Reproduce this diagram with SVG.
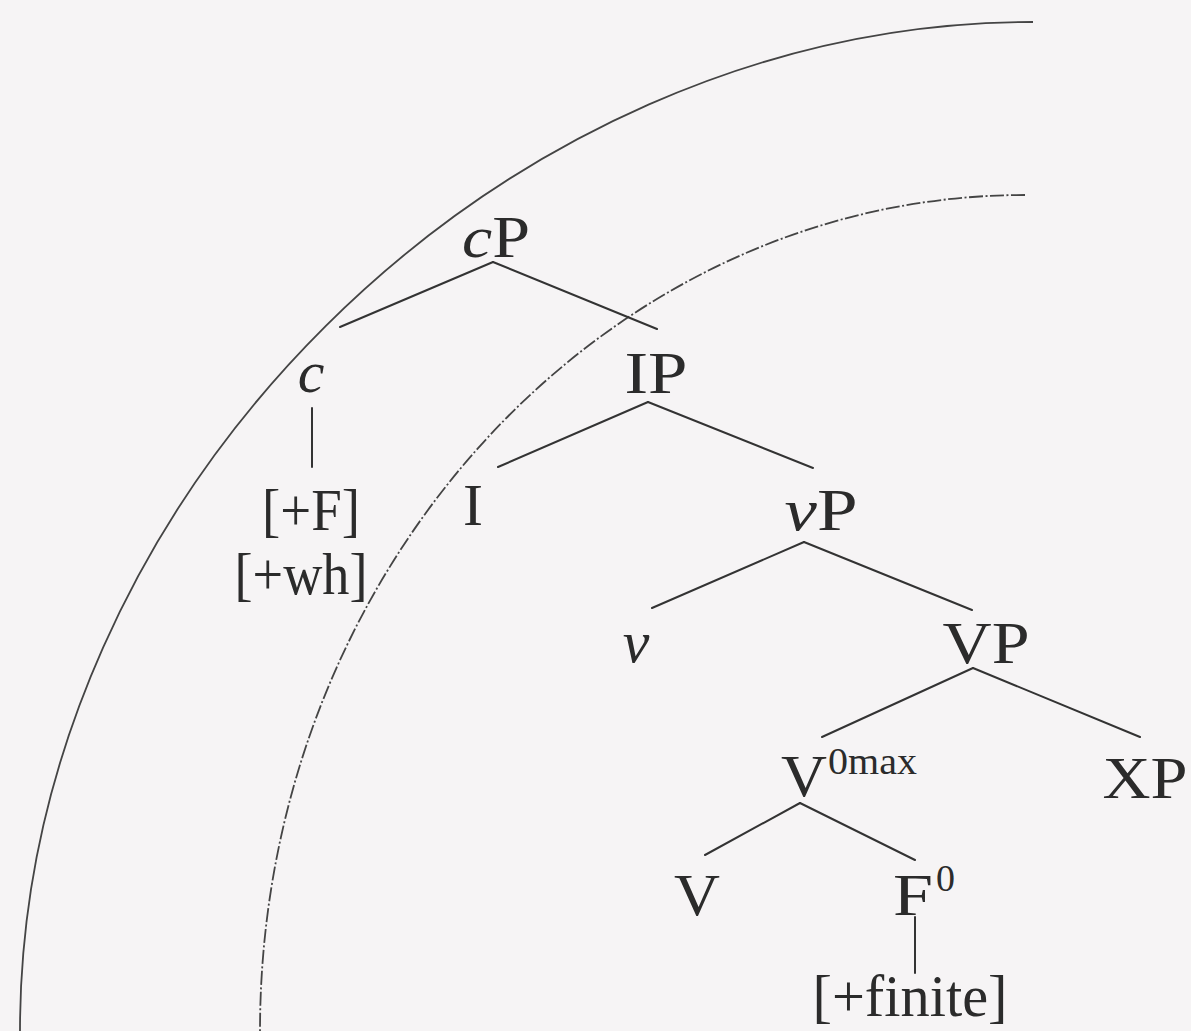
<svg xmlns="http://www.w3.org/2000/svg" width="1191" height="1031" viewBox="0 0 1191 1031">
<style>
.t{font-family:"Liberation Serif","Times New Roman",serif;font-size:60px;fill:#2b2b2b;text-anchor:middle}
.s{font-size:38px}
.i{font-style:italic}
.l{stroke:#333;stroke-width:2;fill:none;stroke-linecap:round}
.arc{stroke:#444;stroke-width:1.8;fill:none}
.dash{stroke-dasharray:14 2.5 2 2.5}
</style>
<rect width="1191" height="1031" fill="#f6f4f5"/>
<g id="arcs">
<path class="arc" d="M1033,22 C498,22 20,496 20,1031"/>
<path class="arc dash" d="M1025,195 C605,195 260,571 260,1031"/>
</g>
<g id="connectors">
<line class="l" x1="493" y1="262" x2="340" y2="327"/>
<line class="l" x1="493" y1="262" x2="657" y2="329"/>
<line class="l" x1="312" y1="408" x2="312" y2="467"/>
<line class="l" x1="648" y1="402" x2="498" y2="467"/>
<line class="l" x1="648" y1="402" x2="813" y2="468"/>
<line class="l" x1="804" y1="542" x2="652" y2="608"/>
<line class="l" x1="804" y1="542" x2="972" y2="610"/>
<line class="l" x1="973" y1="668" x2="822" y2="737"/>
<line class="l" x1="973" y1="668" x2="1140" y2="737"/>
<line class="l" x1="800" y1="803" x2="705" y2="855"/>
<line class="l" x1="800" y1="803" x2="915" y2="860"/>
<line class="l" x1="915" y1="917" x2="915" y2="973"/>
</g>
<g id="node-cP"><text class="t" x="496" y="257" textLength="68" lengthAdjust="spacingAndGlyphs"><tspan class="i">c</tspan>P</text></g>
<g id="node-c"><text class="t i" x="311" y="392">c</text></g>
<g id="node-F"><text class="t" x="311" y="530" textLength="98" lengthAdjust="spacingAndGlyphs">[+F]</text></g>
<g id="node-wh"><text class="t" x="301" y="594" textLength="133" lengthAdjust="spacingAndGlyphs">[+wh]</text></g>
<g id="node-IP"><text class="t" x="656" y="393" textLength="63" lengthAdjust="spacingAndGlyphs">IP</text></g>
<g id="node-I"><text class="t" x="473" y="525">I</text></g>
<g id="node-vP"><text class="t" x="821" y="530" textLength="73" lengthAdjust="spacingAndGlyphs"><tspan class="i">v</tspan>P</text></g>
<g id="node-v"><text class="t i" x="636" y="662">v</text></g>
<g id="node-VP"><text class="t" x="986" y="663" textLength="87" lengthAdjust="spacingAndGlyphs">VP</text></g>
<g id="node-V0max"><text class="t" x="804" y="796" textLength="46" lengthAdjust="spacingAndGlyphs">V</text><text class="t s" x="828" y="774" style="text-anchor:start" textLength="89" lengthAdjust="spacingAndGlyphs">0max</text></g>
<g id="node-XP"><text class="t" x="1145" y="798" textLength="85" lengthAdjust="spacingAndGlyphs">XP</text></g>
<g id="node-V"><text class="t" x="697" y="915" textLength="46" lengthAdjust="spacingAndGlyphs">V</text></g>
<g id="node-F0"><text class="t" x="913" y="915" textLength="40" lengthAdjust="spacingAndGlyphs">F</text><text class="t s" x="936" y="891" style="text-anchor:start">0</text></g>
<g id="node-finite"><text class="t" x="910" y="1016" textLength="195" lengthAdjust="spacingAndGlyphs">[+finite]</text></g>
</svg>
